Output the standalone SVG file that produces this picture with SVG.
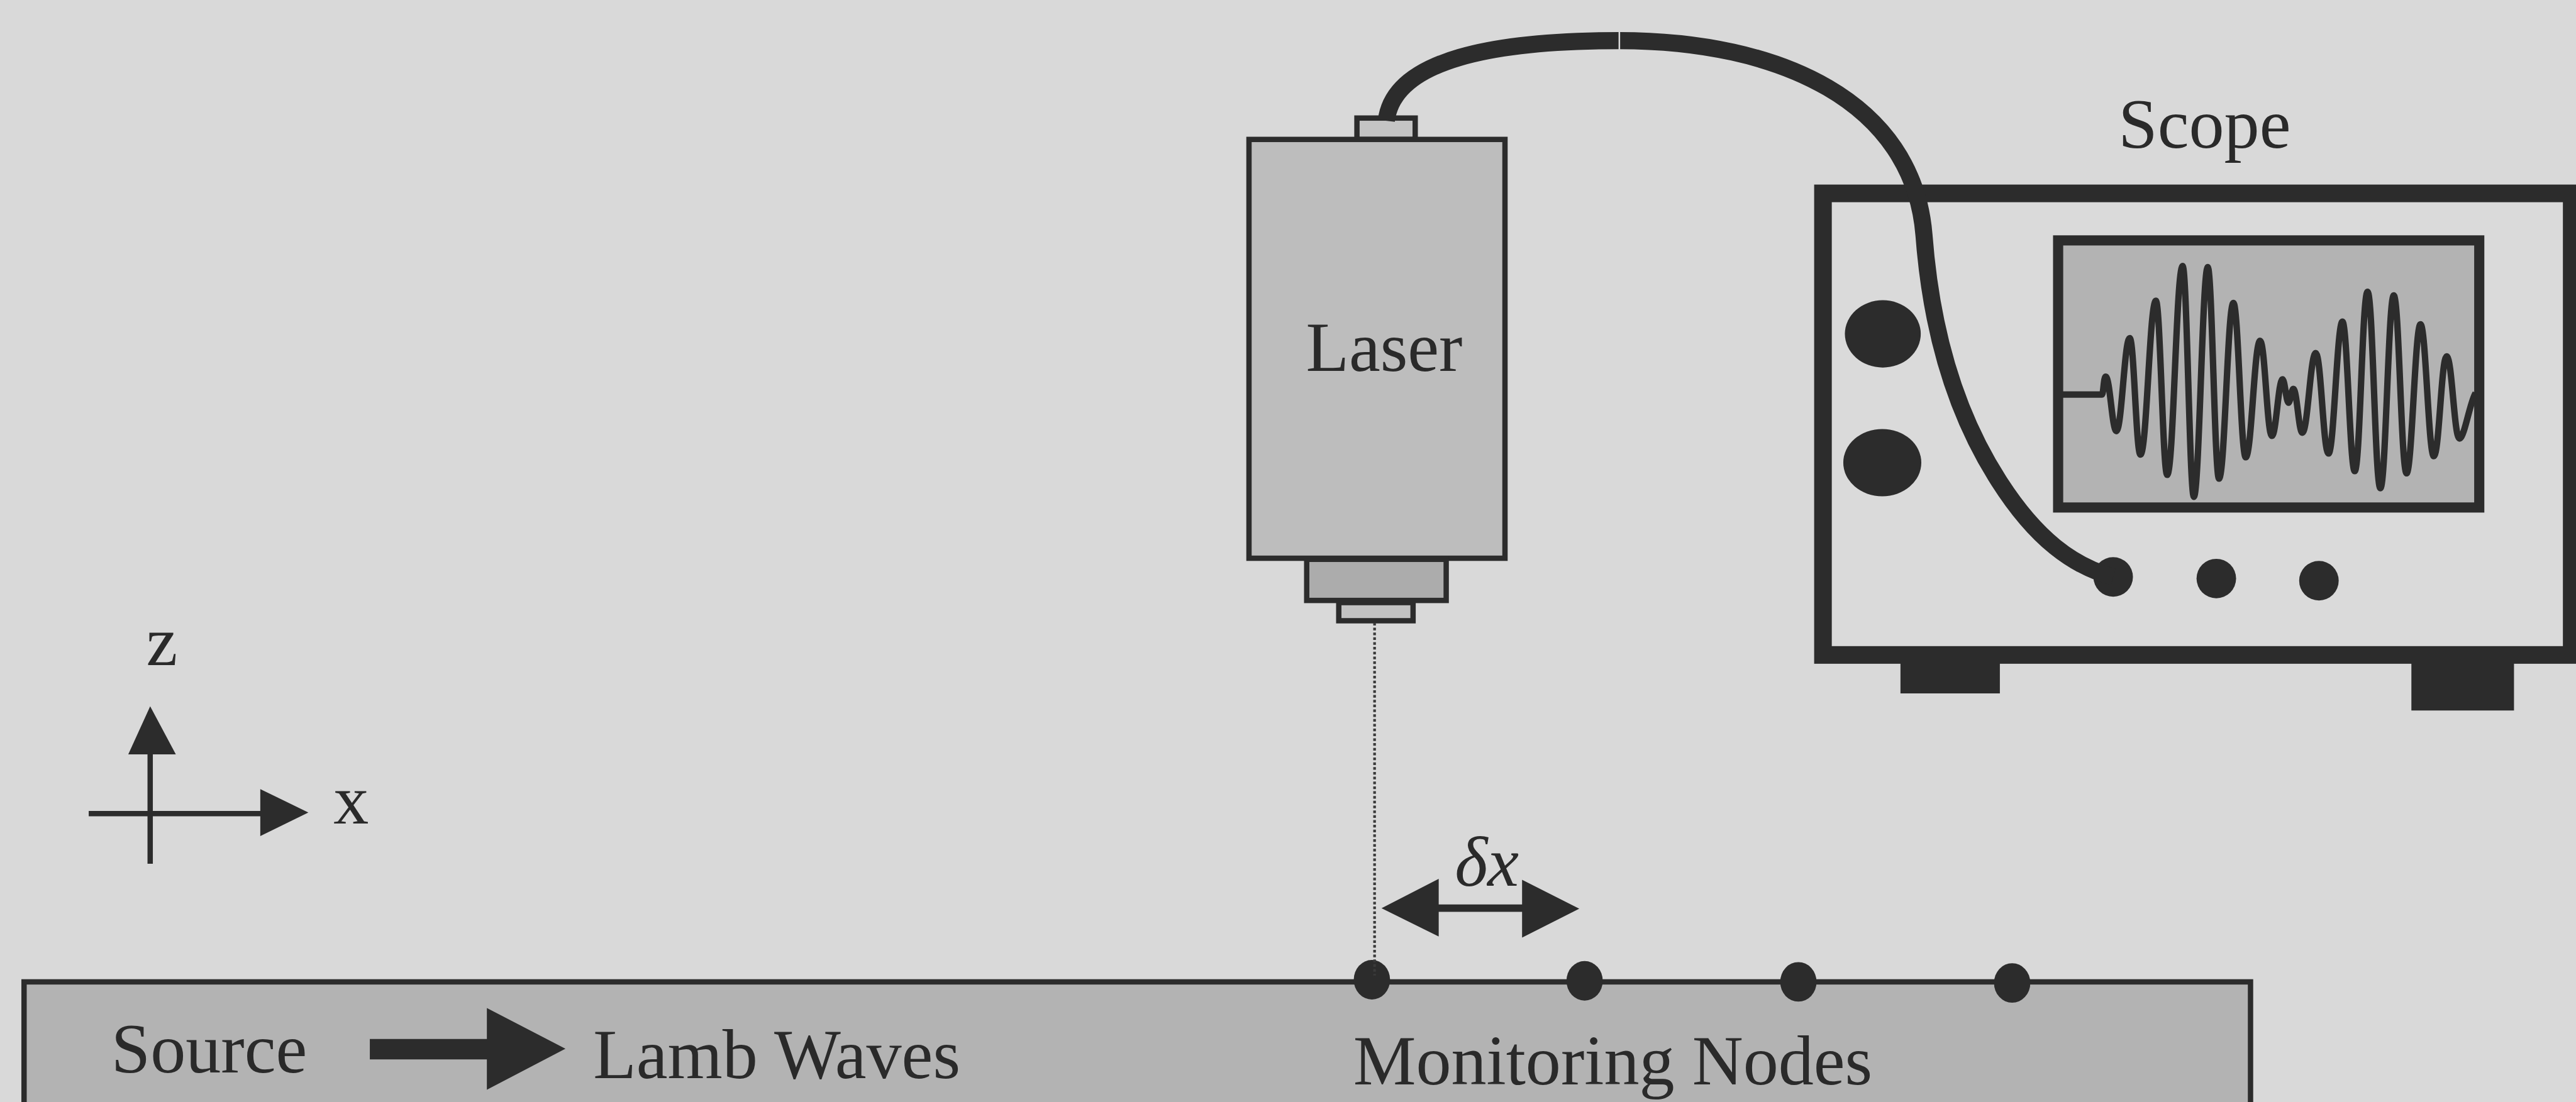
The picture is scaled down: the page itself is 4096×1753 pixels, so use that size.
<svg xmlns="http://www.w3.org/2000/svg" width="4096" height="1753" viewBox="0 0 4096 1753">
  <defs>
    <style>
      .ink { fill: #2c2c2c; }
      .line { fill: none; stroke: #2c2c2c; }
      .label { font-family: "Liberation Serif", "Times New Roman", serif; fill: #2a2a2a; font-size: 132px; }
      .part { stroke: #2c2c2c; stroke-width: 10; }
    </style>
  </defs>

  <rect x="0" y="0" width="4096" height="1753" fill="#d9d9d9"/>

  <!-- drawing laid out on a 4820 x 2063 grid, scaled to the canvas -->
  <g transform="scale(0.84979)">

    <!-- specimen plate -->
    <g id="plate">
      <rect x="45" y="1838" width="4166" height="300" fill="#b3b3b3" stroke="#2c2c2c" stroke-width="10"/>
      <text class="label" x="208" y="2007" font-family="Liberation Serif, Times New Roman, serif">Source</text>
      <path class="ink" d="M692 1945 H911 V1887 L1058 1963 L911 2040 V1983 H692 Z"/>
      <text class="label" x="1110" y="2018" font-family="Liberation Serif, Times New Roman, serif">Lamb Waves</text>
      <text class="label" x="2532" y="2030" font-family="Liberation Serif, Times New Roman, serif">Monitoring Nodes</text>
    </g>

    <!-- monitoring nodes on the plate surface -->
    <g id="nodes">
      <ellipse class="ink" cx="2567" cy="1834" rx="34" ry="37"/>
      <ellipse class="ink" cx="2965" cy="1836" rx="34" ry="37"/>
      <ellipse class="ink" cx="3365" cy="1838" rx="34" ry="37"/>
      <ellipse class="ink" cx="3765" cy="1840" rx="34" ry="37"/>
    </g>

    <!-- coordinate axes -->
    <g id="axes">
      <line class="line" x1="281" y1="1405" x2="281" y2="1617" stroke-width="10"/>
      <polygon class="ink" points="281,1322 240,1412 329,1412"/>
      <line class="line" x1="166" y1="1523" x2="492" y2="1523" stroke-width="10"/>
      <polygon class="ink" points="577,1521 487,1477 487,1565"/>
      <text class="label" x="303" y="1245" text-anchor="middle" font-size="134" font-family="Liberation Serif, Times New Roman, serif">z</text>
      <text class="label" x="657" y="1542" text-anchor="middle" font-size="130" font-family="Liberation Serif, Times New Roman, serif">x</text>
    </g>

    <!-- laser vibrometer head -->
    <g id="laser">
      <rect class="part" x="2539" y="221" width="109" height="40" fill="#c4c4c4" stroke-width="9"/>
      <rect class="part" x="2337" y="261" width="479" height="784" fill="#bdbdbd" stroke-width="12"/>
      <rect class="part" x="2445" y="1047" width="261" height="77" fill="#acacac"/>
      <rect class="part" x="2505" y="1128" width="139" height="34" fill="#c2c2c2" stroke-width="9"/>
      <text class="label" x="2590" y="694" text-anchor="middle" font-size="130" font-family="Liberation Serif, Times New Roman, serif">Laser</text>
    </g>

    <!-- oscilloscope -->
    <g id="scope">
      <text class="label" x="4125" y="276" text-anchor="middle" font-family="Liberation Serif, Times New Roman, serif">Scope</text>
      <rect x="3556" y="1226" width="186" height="72" class="ink"/>
      <rect x="4512" y="1232" width="192" height="98" class="ink"/>
      <rect x="3411" y="362" width="1401" height="864" fill="#dadada" stroke="#2c2c2c" stroke-width="33"/>
      <rect x="3851" y="450" width="788" height="500" fill="#b3b3b3" stroke="#2c2c2c" stroke-width="19"/>
      <path class="line" stroke-width="12" stroke-linejoin="round" d="M3858 738.5 L3933 738.5
        C3936 738.5, 3936 705, 3940 705
        C3948 705, 3952 807, 3960 807
        C3970 807, 3975 633, 3985 633
        C3993 633, 3997 851, 4005 851
        C4017 851, 4022 563, 4034 563
        C4042 563, 4047 889, 4055 889
        C4067 889, 4072 498, 4084 498
        C4092 498, 4097 930, 4105 930
        C4115 930, 4121 500, 4131 500
        C4139 500, 4144 896, 4152 896
        C4163 896, 4168 567, 4179 567
        C4188 567, 4193 856, 4202 856
        C4213 856, 4218 638, 4229 638
        C4238 638, 4242 816, 4251 816
        C4259 816, 4263 710, 4271 710
        C4275 710, 4278 754, 4282 754
        C4285.3 754, 4287.7 728, 4291 728
        C4298 728, 4301 810, 4308 810
        C4318 810, 4323 661, 4333 661
        C4343 661, 4347 849, 4357 849
        C4367 849, 4373 602, 4383 602
        C4392 602, 4397 882, 4406 882
        C4416 882, 4420 546, 4430 546
        C4440 546, 4444 914, 4454 914
        C4464 914, 4469 553, 4479 553
        C4489 553, 4493 886, 4503 886
        C4513 886, 4519 607, 4529 607
        C4539 607, 4544 854, 4554 854
        C4564 854, 4568 667, 4578 667
        C4588 667, 4592 821, 4602 821
        C4611 821, 4622 750, 4632 736"/>
      <ellipse class="ink" cx="3523" cy="625" rx="71" ry="63"/>
      <ellipse class="ink" cx="3522" cy="866" rx="73" ry="63"/>
      <circle class="ink" cx="3954" cy="1080" r="37"/>
      <circle class="ink" cx="4147" cy="1083" r="37"/>
      <circle class="ink" cx="4339" cy="1087" r="37"/>
    </g>

    <!-- connectors: fibre cable, beam line and node spacing arrow -->
    <g id="connectors">
      <path class="line" stroke-width="32" d="M2594 226 C2608 110, 2800 76, 3030 76 C3330 76, 3580 190, 3600 440 C3612 600, 3650 760, 3740 900 C3810 1010, 3880 1060, 3954 1080"/>
      <line x1="3030" y1="56" x2="3030" y2="96" stroke="#d9d9d9" stroke-width="3"/>
      <line x1="2572" y1="1166" x2="2572" y2="1826" stroke="#3a3a3a" stroke-width="5" stroke-dasharray="5 4"/>
      <path class="ink" d="M2585 1700 L2692 1645 V1693 H2848 V1647 L2955 1701 L2848 1755 V1707 H2692 V1753 Z"/>
      <text class="label" x="2722" y="1658" font-style="italic" font-size="140" font-family="Liberation Serif, Times New Roman, serif">δx</text>
    </g>
  </g>
</svg>
